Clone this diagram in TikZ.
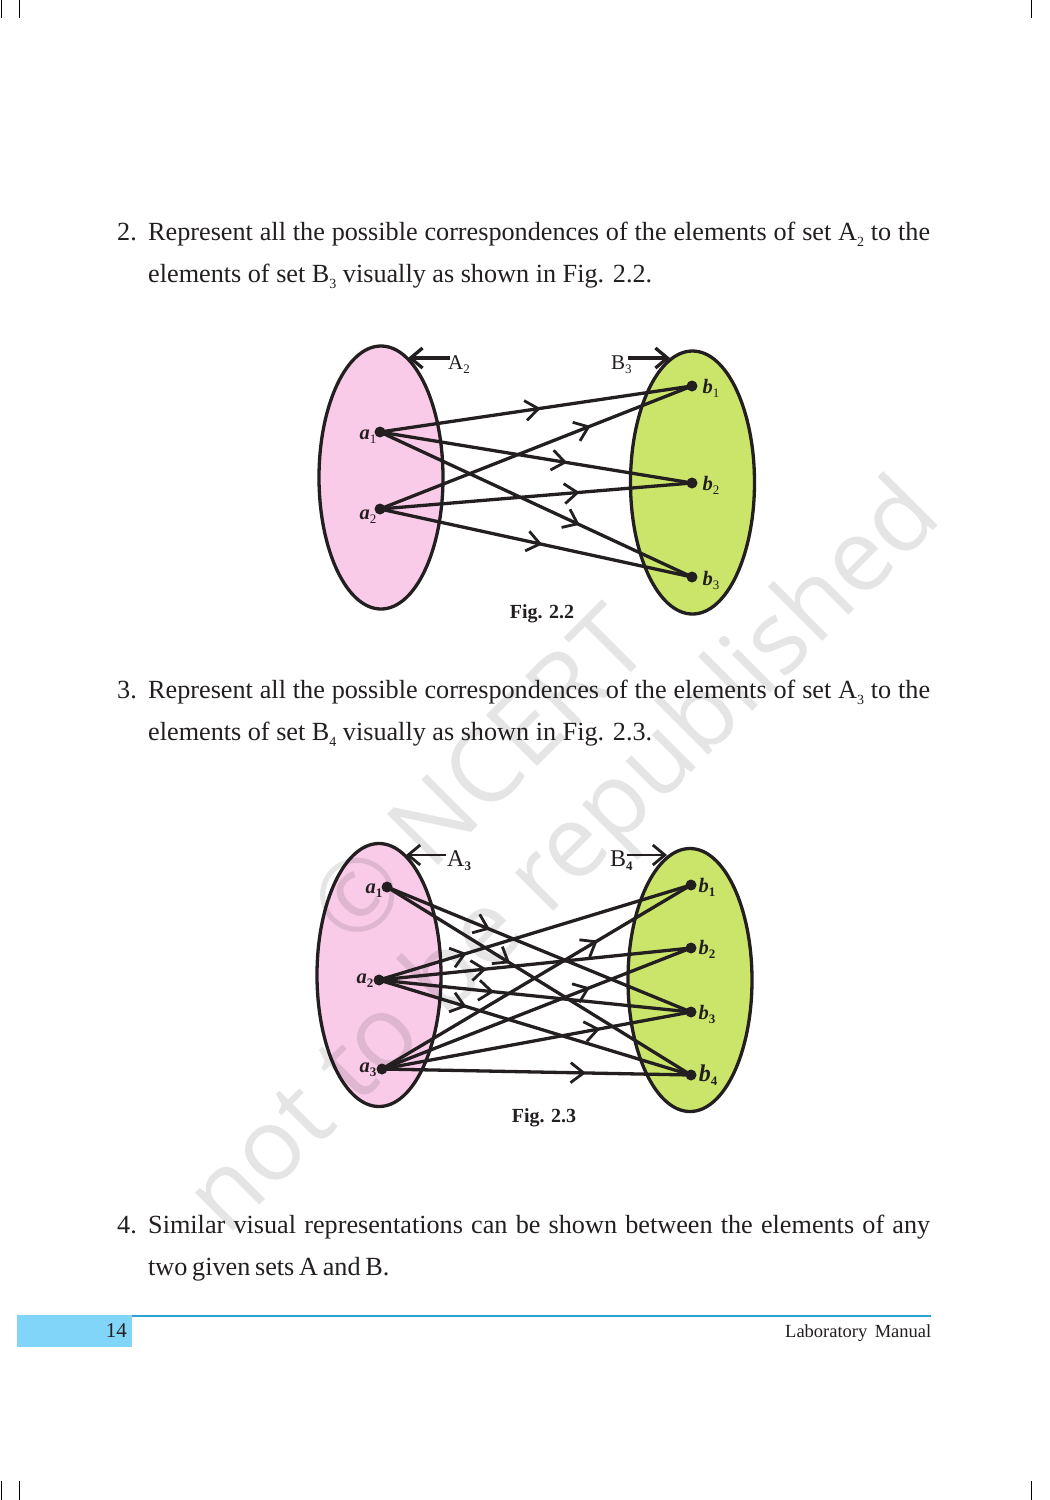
\documentclass[tikz,border=0pt]{standalone}
\usepackage{fontspec}
\setmainfont{Liberation Serif}
\newfontfamily\wmfont{Open Sans}
\usetikzlibrary{arrows.meta,decorations.markings,shapes.geometric}
\definecolor{ink}{HTML}{231F20}
\definecolor{setpink}{HTML}{F9CBE8}
\definecolor{setgreen}{HTML}{CBE56B}
\definecolor{tabblue}{HTML}{80D5F9}
\definecolor{ruleblue}{HTML}{2FA3CF}
\newcommand{\bodyidx}[1]{\raisebox{-6pt}{\fontsize{14}{14}\selectfont #1}}
\newcommand{\lowidx}[1]{\raisebox{-4pt}{\fontsize{13}{13}\selectfont #1}}
\newcommand{\lowbf}[1]{\raisebox{-4pt}{\fontsize{13}{13}\selectfont\bfseries #1}}
\newcommand{\elm}[2]{\textbf{\textit{#1}}\lowidx{#2}}
\newcommand{\elb}[2]{\textbf{\textit{#1}}\lowbf{#2}}
\newcommand{\stretchline}[1]{\makebox[782pt][s]{#1}}
\tikzset{
  x=1pt,y=-1pt,
  setshape/.style={ellipse,draw=ink,line width=3.3pt,minimum width=124pt,minimum height=263pt,inner sep=0pt},
  setA/.style={setshape,fill=setpink},
  setB/.style={setshape,fill=setgreen},
  elemdot/.style={circle,fill=ink,minimum size=11pt,inner sep=0pt},
  body/.style={anchor=base west,inner sep=0pt,font=\fontsize{26.2}{26}\selectfont,text=ink},
  elemlabel/.style={inner sep=0pt,anchor=base,font=\fontsize{20.5}{21}\selectfont,text=ink},
  setlabel/.style={inner sep=0pt,anchor=base west,font=\fontsize{21}{21}\selectfont,text=ink},
  figcap/.style={inner sep=0pt,anchor=base,font=\fontsize{20}{20}\selectfont\bfseries,text=ink},
  link/.style={draw=ink,line width=3.3pt,line cap=round,postaction={decorate},
    decoration={markings,mark=at position #1 with {\arrow[line width=2.8pt]{Straight Barb[length=13pt,width=20pt]}}}},
  pointer/.style={draw=ink,line width=3.3pt,-{Straight Barb[length=12pt,width=20pt]}},
  crop/.style={draw=black,line width=1pt},
  watermark/.style={inner sep=0pt,rotate=45,text=black,opacity=.10,font=\wmfont\fontsize{101}{101}\selectfont}
}
\begin{document}
\begin{tikzpicture}
\useasboundingbox (0,0) rectangle (1050,1500);
\fill[white] (0,0) rectangle (1050,1500);
% crop marks
\coordinate (c1a) at (1,0); \coordinate (c1b) at (1,18);
\coordinate (c2a) at (19,0); \coordinate (c2b) at (19,18);
\coordinate (c3a) at (1031,0); \coordinate (c3b) at (1031,18);
\coordinate (c4a) at (1,1481); \coordinate (c4b) at (1,1500);
\coordinate (c5a) at (19,1481); \coordinate (c5b) at (19,1500);
\coordinate (c6a) at (1031,1481); \coordinate (c6b) at (1031,1500);
\draw[crop] (c1a)--(c1b); \draw[crop] (c2a)--(c2b); \draw[crop] (c3a)--(c3b);
\draw[crop] (c4a)--(c4b); \draw[crop] (c5a)--(c5b); \draw[crop] (c6a)--(c6b);
% sets
\node[setA] (A2) at (381,477.5) {};
\node[setB] (B3) at (692.5,482.5) {};
\node[setA] (A3) at (379,975) {};
\node[setB] (B4) at (690,980) {};
% watermark
\node[watermark] (wm1) at (567,860) {not to be republished};
\node[watermark] (wm2) at (478,775) {© NCERT};
% body text
\node[body] (t1n) at (117,240) {2.};
\node[body] (t1) at (148,240) {\stretchline{Represent all the possible correspondences of the elements of set A\bodyidx{2} to the}};
\node[body] (t2) at (148,282) {elements of set B\bodyidx{3} visually as shown in Fig. 2.2.};
\node[body] (t3n) at (117,698) {3.};
\node[body] (t3) at (148,698) {\stretchline{Represent all the possible correspondences of the elements of set A\bodyidx{3} to the}};
\node[body] (t4) at (148,740) {elements of set B\bodyidx{4} visually as shown in Fig. 2.3.};
\node[body] (t5n) at (117,1233) {4.};
\node[body] (t5) at (148,1233) {\stretchline{Similar visual representations can be shown between the elements of any}};
\node[body] (t6) at (148,1275) {\spaceskip=.18em two given sets A and B.};
% Fig 2.2
\node[elemdot] (a1) at (380,432) {};
\node[elemdot] (a2) at (380,509) {};
\node[elemdot] (b1) at (692,386) {};
\node[elemdot] (b2) at (692,483) {};
\node[elemdot] (b3) at (692,577) {};
\draw[link=.515] (a1.center)--(b1.center);
\draw[link=.60] (a1.center)--(b2.center);
\draw[link=.64] (a1.center)--(b3.center);
\draw[link=.675] (a2.center)--(b1.center);
\draw[link=.64] (a2.center)--(b2.center);
\draw[link=.52] (a2.center)--(b3.center);
\node[elemlabel] (la1) at (368,439) {\elm{a}{1}};
\node[elemlabel] (la2) at (368,519) {\elm{a}{2}};
\node[elemlabel] (lb1) at (711,393) {\elm{b}{1}};
\node[elemlabel] (lb2) at (711,490) {\elm{b}{2}};
\node[elemlabel] (lb3) at (711,585) {\elm{b}{3}};
\node[setlabel] (nA2) at (448,369) {A\lowidx{2}};
\node[setlabel] (nB3) at (611,369) {B\lowidx{3}};
\coordinate (pA2a) at (450,358); \coordinate (pA2b) at (408,358);
\coordinate (pB3a) at (628,358); \coordinate (pB3b) at (670,358);
\draw[pointer] (pA2a)--(pA2b);
\draw[pointer] (pB3a)--(pB3b);
\node[figcap] (cap2) at (542,618) {Fig. 2.2};
% Fig 2.3
\node[elemdot] (p1) at (387,887) {};
\node[elemdot] (p2) at (379,980) {};
\node[elemdot] (p3) at (382,1069) {};
\node[elemdot] (q1) at (691,885) {};
\node[elemdot] (q2) at (691,948) {};
\node[elemdot] (q3) at (691,1012) {};
\node[elemdot] (q4) at (691,1075) {};
\draw[link=.339] (p1.center)--(q3.center);
\draw[link=.405] (p1.center)--(q4.center);
\draw[link=.281] (p2.center)--(q1.center);
\draw[link=.345] (p2.center)--(q2.center);
\draw[link=.369] (p2.center)--(q3.center);
\draw[link=.281] (p2.center)--(q4.center);
\draw[link=.698] (p3.center)--(q1.center);
\draw[link=.673] (p3.center)--(q2.center);
\draw[link=.706] (p3.center)--(q3.center);
\draw[link=.66] (p3.center)--(q4.center);
\node[elemlabel] (lp1) at (374,893) {\elb{a}{1}};
\node[elemlabel] (lp2) at (365,983) {\elb{a}{2}};
\node[elemlabel] (lp3) at (368,1072) {\elb{a}{3}};
\node[elemlabel] (lq1) at (707,892) {\elb{b}{1}};
\node[elemlabel] (lq2) at (707,954) {\elb{b}{2}};
\node[elemlabel] (lq3) at (707,1019) {\elb{b}{3}};
\node[elemlabel,font=\fontsize{24}{24}\selectfont] (lq4) at (708,1081) {\elb{b}{4}};
\node[setlabel,font=\fontsize{24}{24}\selectfont] (nA3) at (447,866) {A\lowbf{3}};
\node[setlabel,font=\fontsize{24}{24}\selectfont] (nB4) at (610,866) {B\lowbf{4}};
\coordinate (pA3a) at (446,855); \coordinate (pA3b) at (406,855);
\coordinate (pB4a) at (627,855); \coordinate (pB4b) at (667,855);
\draw[pointer,line width=2.8pt] (pA3a)--(pA3b);
\draw[pointer,line width=2.8pt] (pB4a)--(pB4b);
\node[figcap] (cap3) at (544,1122) {Fig. 2.3};
% footer
\fill[tabblue] (17,1315) rectangle (132,1347);
\coordinate (ra) at (132,1316); \coordinate (rb) at (931,1316);
\draw[ruleblue,line width=2pt] (ra)--(rb);
\node[inner sep=0pt,anchor=base east,font=\fontsize{21}{21}\selectfont,text=ink] (pg) at (127,1337) {14};
\node[inner sep=0pt,anchor=base east,font=\fontsize{18.5}{19}\selectfont,text=ink] (lm) at (931.5,1337) {Laboratory\hspace{.4em}Manual};
\end{tikzpicture}
\end{document}
